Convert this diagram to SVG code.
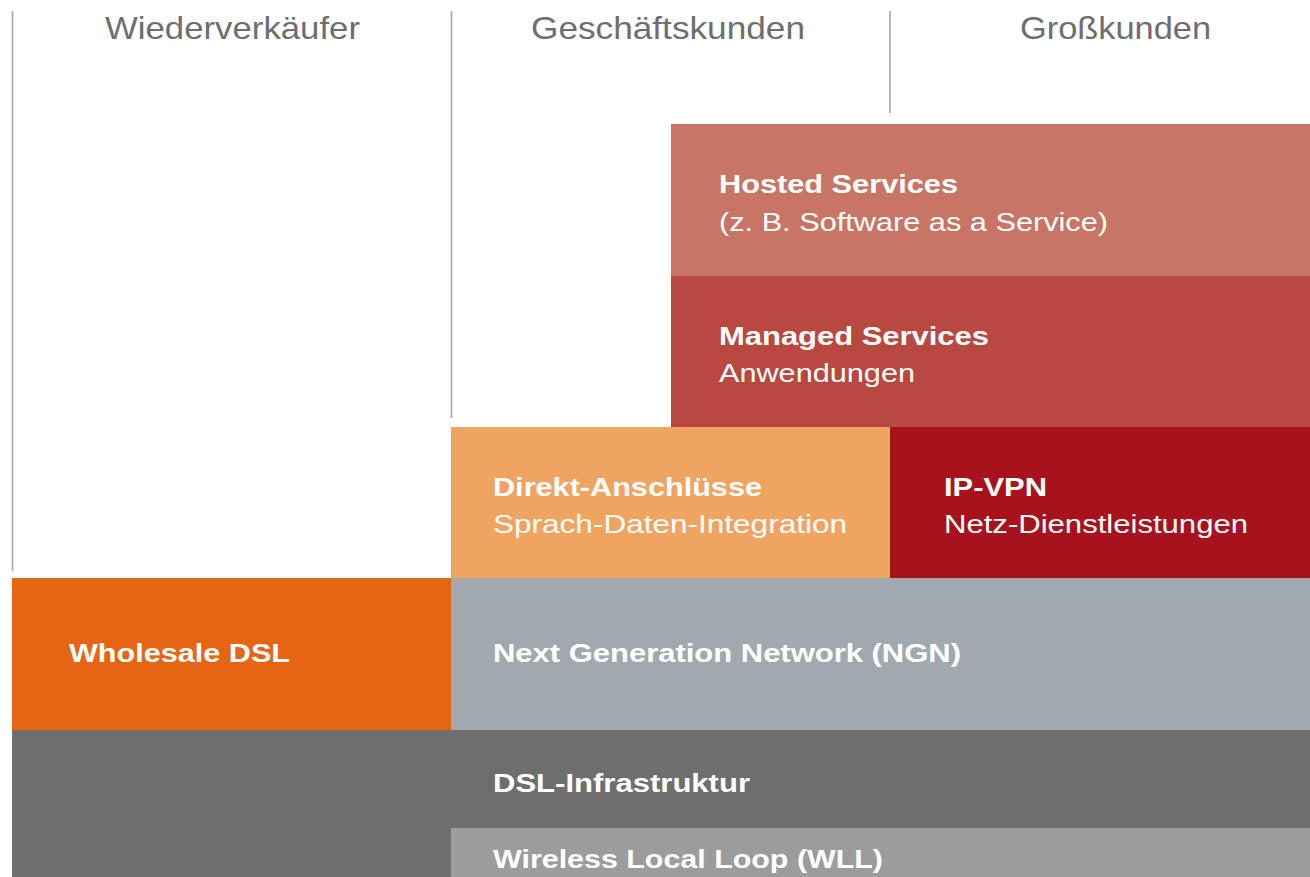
<svg xmlns="http://www.w3.org/2000/svg" width="1310" height="877" viewBox="0 0 1310 877">
<style>
.hdr{font-family:"Liberation Sans",Arial,sans-serif;font-size:30.5px;fill:#6e6e6e}
.b{font-family:"Liberation Sans",Arial,sans-serif;font-size:26.5px;font-weight:bold;fill:#ffffff}
.r{font-family:"Liberation Sans",Arial,sans-serif;font-size:26.5px;fill:#ffffff}
.sep{stroke:#a8a8a8;stroke-width:1.6;fill:none}
</style>
<rect width="1310" height="877" fill="#ffffff"/>
<g id="separators">
<line class="sep" x1="12.5" y1="11" x2="12.5" y2="571"/>
<line class="sep" x1="451.5" y1="11" x2="451.5" y2="418"/>
<line class="sep" x1="890" y1="11" x2="890" y2="113"/>
</g>
<g id="headers">
<text class="hdr" x="105" y="39" textLength="255" lengthAdjust="spacingAndGlyphs">Wiederverkäufer</text>
<text class="hdr" x="531" y="39" textLength="274" lengthAdjust="spacingAndGlyphs">Geschäftskunden</text>
<text class="hdr" x="1020" y="39" textLength="191" lengthAdjust="spacingAndGlyphs">Großkunden</text>
</g>
<g id="hosted">
<rect x="671" y="124" width="639" height="152" fill="#c87565"/>
<text class="b" x="719" y="193" textLength="239" lengthAdjust="spacingAndGlyphs">Hosted Services</text>
<text class="r" x="719" y="231" textLength="389" lengthAdjust="spacingAndGlyphs">(z. B. Software as a Service)</text>
</g>
<g id="managed">
<rect x="671" y="276" width="639" height="151" fill="#b94840"/>
<text class="b" x="719" y="345" textLength="270" lengthAdjust="spacingAndGlyphs">Managed Services</text>
<text class="r" x="719" y="382" textLength="196" lengthAdjust="spacingAndGlyphs">Anwendungen</text>
</g>
<g id="direkt">
<rect x="451" y="427" width="439" height="151" fill="#f0a461"/>
<text class="b" x="493" y="496" textLength="269" lengthAdjust="spacingAndGlyphs">Direkt-Anschlüsse</text>
<text class="r" x="493" y="533" textLength="354" lengthAdjust="spacingAndGlyphs">Sprach-Daten-Integration</text>
</g>
<g id="ipvpn">
<rect x="890" y="427" width="420" height="151" fill="#a8121c"/>
<text class="b" x="944" y="496" textLength="103" lengthAdjust="spacingAndGlyphs">IP-VPN</text>
<text class="r" x="944" y="533" textLength="304" lengthAdjust="spacingAndGlyphs">Netz-Dienstleistungen</text>
</g>
<g id="wholesale">
<rect x="12" y="578" width="439" height="152" fill="#e66515"/>
<text class="b" x="69" y="662" textLength="221" lengthAdjust="spacingAndGlyphs">Wholesale DSL</text>
</g>
<g id="ngn">
<rect x="451" y="578" width="859" height="152" fill="#a1a9af"/>
<text class="b" x="493" y="662" textLength="468" lengthAdjust="spacingAndGlyphs">Next Generation Network (NGN)</text>
</g>
<g id="dsl">
<rect x="12" y="730" width="1298" height="147" fill="#6e6e6e"/>
<text class="b" x="493" y="792" textLength="257" lengthAdjust="spacingAndGlyphs">DSL-Infrastruktur</text>
</g>
<g id="wll">
<rect x="451" y="828" width="859" height="49" fill="#9c9c9c"/>
<text class="b" x="493" y="868" textLength="390" lengthAdjust="spacingAndGlyphs">Wireless Local Loop (WLL)</text>
</g>
</svg>
